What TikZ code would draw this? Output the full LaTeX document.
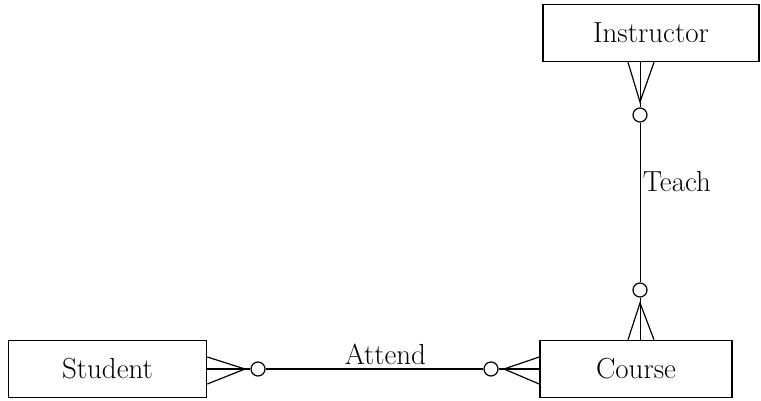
\documentclass[tikz,border=0pt]{standalone}
\usetikzlibrary{calc}

\tikzset{x=1pt, y=-1pt,
    entity/.style={draw, line width=1.6pt, minimum height=57pt, inner sep=0pt},
    opt/.style={circle, draw, line width=1.2pt, minimum size=14pt, inner sep=0pt},
    foot/.style={line width=1.2pt},
    every node/.append style={font=\fontsize{29}{33}\selectfont}}

\begin{document}
\begin{tikzpicture}
    \useasboundingbox (0,0) rectangle (761,400);
    % entities
    \node[entity, minimum width=216pt] (instructor) at (651,33) {Instructor};
    \node[entity, minimum width=192pt] (course) at (636,369) {Course};
    \node[entity, minimum width=198pt] (student) at (107.5,369) {Student};
    % optional markers
    \node[opt] (o1) at (640,115) {};
    \node[opt] (o2) at (640,290) {};
    \node[opt] (o3) at (258,369) {};
    \node[opt] (o4) at (491,369) {};
    % crow's feet tips
    \coordinate (p1) at (640,102);
    \coordinate (p2) at (640,303);
    \coordinate (p3) at (245,369);
    \coordinate (p4) at (504,369);
    \draw[foot] ($(instructor.south -| p1)+(-12,0)$) -- (p1) -- ($(instructor.south -| p1)+(14,0)$);
    \draw[foot] ($(course.north -| p2)+(-12,0)$) -- (p2) -- ($(course.north -| p2)+(14,0)$);
    \draw[foot] ($(student.east |- p3)+(0,-12)$) -- (p3) -- ($(student.east |- p3)+(0,15)$);
    \draw[foot] ($(course.west |- p4)+(0,-12)$) -- (p4) -- ($(course.west |- p4)+(0,15)$);
    % Teach
    \draw[line width=1pt] (instructor.south -| o1) -- (o1);
    \draw[line width=1pt] (o1) -- node[right, pos=0.37, xshift=-1pt] {Teach} (o2);
    \draw[line width=1pt] (o2) -- (course.north -| o2);
    % Attend
    \draw[line width=1.8pt] (student.east) -- (o3);
    \draw[line width=1.8pt] (o3) -- node[above, pos=0.55] {Attend} (o4);
    \draw[line width=1.8pt] (o4) -- (course.west);
\end{tikzpicture}
\end{document}
